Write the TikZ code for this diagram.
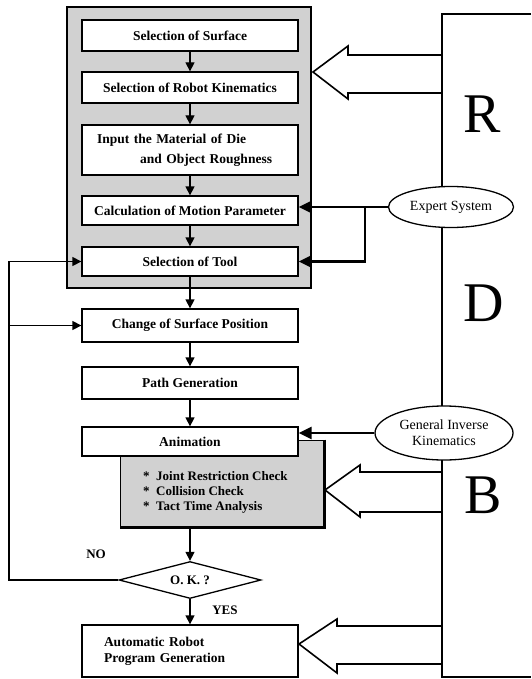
\documentclass[tikz,border=0pt]{standalone}
\usepackage{fontspec}
\setmainfont{Liberation Serif}
\usetikzlibrary{shapes.geometric, arrows.meta}

\tikzset{
  stepbox/.style={draw, line width=1.3pt, fill=white, minimum width=216pt, inner ysep=2pt,
    font=\fontsize{13.5}{16}\selectfont\bfseries},
  flow/.style={-{Triangle[length=9pt, width=9pt]}, line width=1.3pt},
  bold flow/.style={-{Triangle[length=13pt, width=12pt]}, line width=2.4pt},
  dotfill/.style={fill=black!18},
  bubble/.style={draw, ellipse, line width=1.3pt, fill=white, inner sep=1pt, align=center,
    font=\fontsize{14}{16}\selectfont},
  letter/.style={font=\fontsize{56}{56}\selectfont},
  hollow/.style={line width=1.6pt, line join=miter},
  tag/.style={font=\fontsize{13}{15}\selectfont\bfseries},
}

\begin{document}
\begin{tikzpicture}[x=1pt, y=-1pt]
\useasboundingbox (0,0) rectangle (531,679);
% shaded frame
\draw[dotfill, line width=1.6pt] (67,7) rectangle (311,288);
\draw[line width=2.6pt] (311,7) -- (311,288) -- (67,288);
\node[stepbox, minimum height=31pt] (sos) at (190,35.5) {Selection of Surface};
\node[stepbox, minimum height=31pt] (srk) at (190,87.5) {Selection of Robot Kinematics};
\node[stepbox, minimum height=50pt, text width=186pt, inner xsep=15pt, align=left,
  font=\fontsize{13.5}{20}\selectfont\bfseries] (imd) at (190,150)
  {Input the Material of Die\\\hspace*{43pt}and Object Roughness};
\node[stepbox, minimum height=29pt] (cmp) at (190,210.5) {Calculation of Motion Parameter};
\node[stepbox, minimum height=29pt] (sot) at (190,261.5) {Selection of Tool};
\draw[flow] (sos) -- (srk);
\draw[flow] (srk) -- (imd);
\draw[flow] (imd) -- (cmp);
\draw[flow] (cmp) -- (sot);
% lower chain
\node[stepbox, minimum height=33pt] (csp) at (190,325.5) {Change of Surface Position};
\node[stepbox, minimum height=32pt] (pg) at (190,383) {Path Generation};
\node[draw, dotfill, line width=0.6pt, minimum width=204pt, minimum height=87pt] (chk) at (222,483.5) {};
\draw[line width=2.6pt] (chk.north east) -- (chk.south east) -- (chk.south west);
\node[anchor=west, align=left, inner sep=0pt, font=\fontsize{13}{15}\selectfont\bfseries] (chktxt) at (143,492)
  {*\ \ Joint Restriction Check\\*\ \ Collision Check\\*\ \ Tact Time Analysis};
\node[stepbox, minimum height=29pt] (anim) at (190,441.5) {Animation};
\node[draw, diamond, aspect=3.8, line width=1.3pt, fill=white, minimum width=142pt, minimum height=37pt,
  inner sep=1pt, tag] (ok) at (190,580) {O. K. ?};
\node[stepbox, minimum height=52pt, text width=172pt, inner xsep=22pt, align=left] (arpg) at (190,651)
  {Automatic Robot\\Program Generation};
\draw[flow] (sot) -- (csp);
\draw[flow] (csp) -- (pg);
\draw[flow] (pg) -- (anim);
\draw[flow] (chk.south -| ok.north) -- (ok.north);
\draw[flow] (ok) -- (arpg);
\node[tag] (no) at (96,554) {NO};
\node[tag] (yes) at (225,610) {YES};
% loop back
\coordinate (back) at (9,580);
\draw[flow] (ok.west) -- (back) |- (sot.west);
\draw[flow] (back |- csp.west) -- (csp.west);
% RDB block
\draw[hollow] (442,55) -- (348,55) -- (348,46) -- (313,72) -- (348,99) -- (348,93) -- (442,93);
\draw[hollow] (442,472) -- (360,472) -- (360,465) -- (325,490) -- (360,517) -- (360,512) -- (442,512);
\draw[hollow] (442,626) -- (337,626) -- (337,619) -- (299,644) -- (337,673) -- (337,664) -- (442,664);
\draw[line width=1.3pt] (531,14) -- (442,14) -- (442,677) -- (531,677);
\node[letter] (r) at (482,114) {R};
\node[letter] (d) at (484,303) {D};
\node[letter] (b) at (483,495) {B};
\node[bubble, minimum width=125pt, minimum height=41pt] (es) at (451,207) {Expert System};
\node[bubble, minimum width=138pt, minimum height=54pt] (gik) at (444,433) {General Inverse\\Kinematics};
\draw[bold flow] (es.west) -- (es.west -| cmp.east);
\coordinate (esj) at (365,207);
\draw[bold flow] (esj) |- (sot.east);
\draw[bold flow] (gik.west) -- (gik.west -| anim.east);
\end{tikzpicture}
\end{document}
